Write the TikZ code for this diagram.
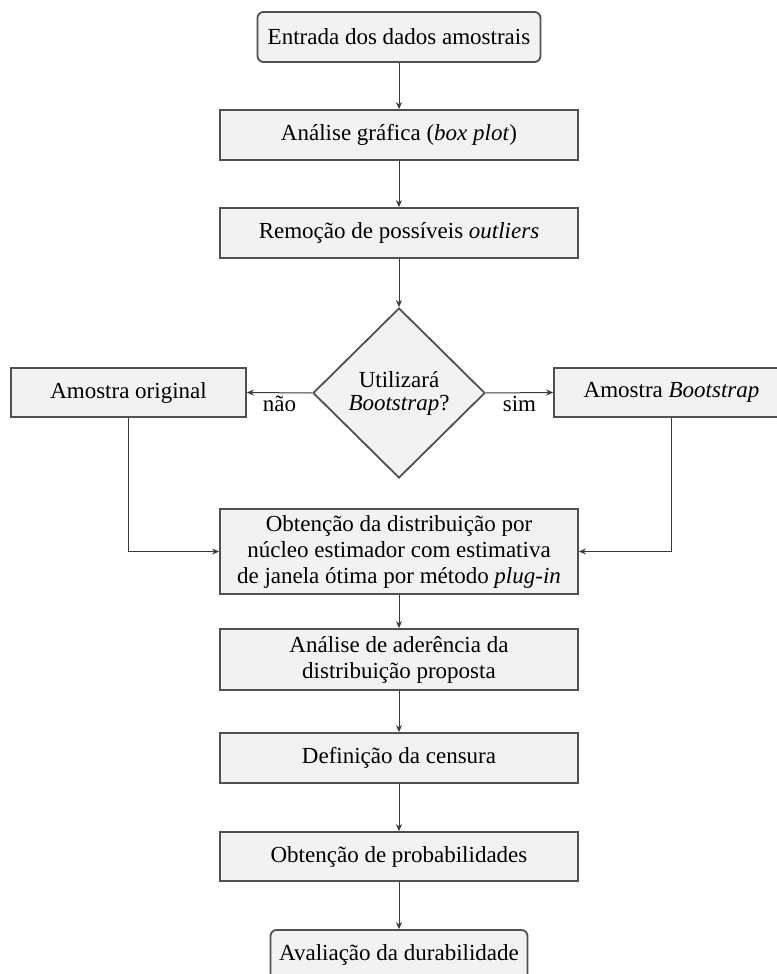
\documentclass[tikz,border=0pt]{standalone}
\usepackage{fontspec}
\setmainfont{Liberation Serif}
\usetikzlibrary{shapes.geometric,arrows.meta}
\definecolor{boxfill}{HTML}{F2F2F2}
\definecolor{boxline}{HTML}{505050}
\definecolor{arrowline}{HTML}{3A3A3A}
\begin{document}
\begin{tikzpicture}[x=0.5pt,y=-0.5pt,
  font=\fontsize{11.5}{13}\selectfont,
  procbox/.style={draw=boxline, fill=boxfill, line width=0.9pt, inner sep=0pt,
    align=center, minimum width=179pt, minimum height=25pt},
  termbox/.style={procbox, rounded corners=3pt},
  decision/.style={diamond, draw=boxline, fill=boxfill, line width=0.9pt, inner sep=0pt,
    align=center, minimum width=86pt, minimum height=85pt,
    font=\fontsize{11.5}{11.5}\selectfont},
  flow/.style={draw=arrowline, line width=0.5pt, -{Stealth[length=3.5pt,width=3pt]}},
  lbl/.style={inner sep=1.5pt}]
\useasboundingbox (0,0) rectangle (776,974);
\node[termbox, minimum width=141.5pt] (start) at (399,37) {Entrada dos dados amostrais};
\node[procbox] (graf) at (399,135) {Análise gráfica (\textit{box plot})};
\node[procbox] (rem) at (399,233) {Remoção de possíveis \textit{outliers}};
\node[decision] (dec) at (399,393) {Utilizará\\\textit{Bootstrap}?};
\node[procbox, minimum width=117.5pt, minimum height=24.5pt] (orig) at (128.5,392.5) {Amostra original};
\node[procbox, minimum width=117.5pt, minimum height=24.5pt] (boot) at (671.5,392.5) {Amostra \textit{Bootstrap}};
\node[procbox, minimum height=42.5pt] (kde) at (399,551.5) {Obtenção da distribuição por\\núcleo estimador com estimativa\\de janela ótima por método \textit{plug-in}};
\node[procbox, minimum height=30.5pt] (ader) at (399,659.5) {Análise de aderência da\\distribuição proposta};
\node[procbox] (cens) at (399,758) {Definição da censura};
\node[procbox, minimum height=24.5pt] (prob) at (399,856.5) {Obtenção de probabilidades};
\node[termbox, minimum width=128.5pt] (aval) at (399,955) {Avaliação da durabilidade};
\draw[flow] (start) -- (graf);
\draw[flow] (graf) -- (rem);
\draw[flow] (rem) -- (dec);
\draw[flow] (dec.west) -- node[lbl, below] {não} (orig.east);
\draw[flow] (dec.east) -- node[lbl, below] {sim} (boot.west);
\draw[flow] (orig.south) |- (kde.west);
\draw[flow] (boot.south) |- (kde.east);
\draw[flow] (kde) -- (ader);
\draw[flow] (ader) -- (cens);
\draw[flow] (cens) -- (prob);
\draw[flow] (prob) -- (aval);
\end{tikzpicture}
\end{document}
